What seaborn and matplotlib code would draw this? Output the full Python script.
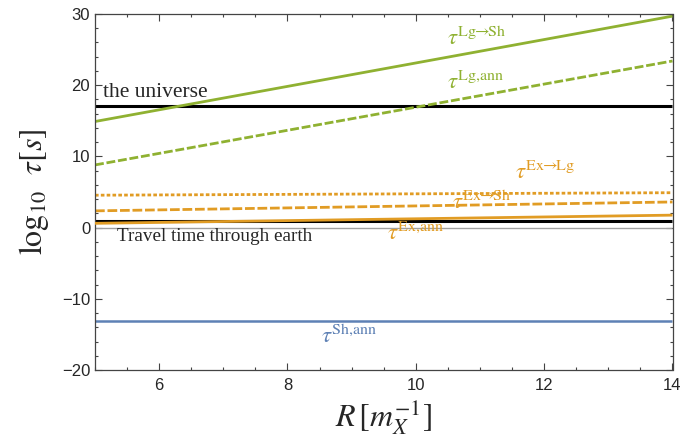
import matplotlib
matplotlib.use("Agg")
import matplotlib.pyplot as plt
import seaborn as sns
import pandas as pd
import numpy as np
from matplotlib.ticker import MultipleLocator

sns.set_style("ticks")
plt.rcParams['font.family'] = ['Liberation Sans', 'DejaVu Sans']
plt.rcParams['mathtext.fontset'] = 'stix'

# Data
R = [5.0, 14.0]
lg_sh = [14.9, 29.7]        # tau Lg->Sh (solid green)
lg_ann = [8.8, 23.4]        # tau Lg,ann (dashed green)
universe = [17.05, 17.05]   # age of the universe (black)
ex_lg = [4.55, 4.9]         # tau Ex->Lg (dotted orange)
ex_sh = [2.35, 3.6]         # tau Ex->Sh (dashed orange)
ex_ann = [0.6, 1.75]        # tau Ex,ann (solid orange)
travel = [0.93, 0.93]       # travel time through earth (black)
zero = [0.0, 0.0]           # axis line
sh_ann = [-13.1, -13.1]     # tau Sh,ann (blue)

green = '#8FB131'
orange = '#E19C24'
blue = '#5E81B5'

fig = plt.figure(figsize=(6.85, 4.48), dpi=100)
ax = fig.add_axes([95/685, 1-370/448, (672.5-95)/685, (370-14)/448])

def line(y, color, lw, dashes=None, z=2):
    df = pd.DataFrame({'R': R, 'y': y})
    sns.lineplot(data=df, x='R', y='y', ax=ax, color=color, lw=lw, zorder=z)
    l = ax.lines[-1]
    if dashes is not None:
        l.set_dashes(dashes)
    l.set_solid_capstyle('butt')
    l.set_dash_capstyle('butt')

line(zero, '#a0a0a0', 1.0, z=1)
line(sh_ann, blue, 1.8)
line(travel, 'black', 2.2)
line(ex_ann, orange, 2.0, z=3)
line(ex_sh, orange, 2.0, dashes=(3.5, 1.0))
line(ex_lg, orange, 2.0, dashes=(1.3, 0.8))
line(universe, 'black', 2.2)
line(lg_ann, green, 2.0, dashes=(3.2, 1.0))
line(lg_sh, green, 2.0)

ax.set_xlim(5, 14)
ax.set_ylim(-20, 30)
ax.xaxis.set_major_locator(MultipleLocator(2))
ax.xaxis.set_minor_locator(MultipleLocator(0.5))
ax.yaxis.set_major_locator(MultipleLocator(10))
ax.yaxis.set_minor_locator(MultipleLocator(2))
ax.tick_params(which='both', direction='in', top=True, right=True, labelsize=12,
               color='#444444', width=0.8)
ax.tick_params(which='major', length=5)
ax.tick_params(which='minor', length=2.5)
for s in ax.spines.values():
    s.set_color('#444444')
    s.set_linewidth(0.9)
ax.set_xticks([6, 8, 10, 12, 14])
ax.set_xticklabels(['6', '8', '10', '12', '14'])
ax.set_yticks([-20, -10, 0, 10, 20, 30])
ax.set_yticklabels(['\u221220', '\u221210', '0', '10', '20', '30'])
ax.tick_params(axis='x', pad=6)

ax.set_xlabel(r'$R\,[m_X^{-1}]$', fontsize=23, labelpad=3)
ax.set_ylabel(r'$\mathrm{log}_{10}\ \ \tau[s]$', fontsize=23, labelpad=8)

serif = ['Liberation Serif', 'DejaVu Serif']
ax.text(5.13, 19.0, 'the universe', ha='left', va='center', fontsize=15.5,
        family=serif)
ax.text(5.35, -1.3, 'Travel time through earth', ha='left', va='center', fontsize=13.8,
        family=serif)

fs = 16.5
ax.text(10.48, 26.6, r'$\tau^{\mathrm{Lg}\!\!\rightarrow\!\!\mathrm{Sh}}$', color=green, fontsize=fs, va='center')
ax.text(10.48, 20.4, r'$\tau^{\mathrm{Lg{,}ann}}$', color=green, fontsize=fs, va='center')
ax.text(11.55, 7.8, r'$\tau^{\mathrm{Ex}\!\!\rightarrow\!\!\mathrm{Lg}}$', color=orange, fontsize=fs, va='center')
ax.text(10.56, 3.6, r'$\tau^{\mathrm{Ex}\!\!\rightarrow\!\!\mathrm{Sh}}$', color=orange, fontsize=fs, va='center')
ax.text(9.55, -0.8, r'$\tau^{\mathrm{Ex{,}ann}}$', color=orange, fontsize=fs, va='center')
ax.text(8.52, -15.2, r'$\tau^{\mathrm{Sh{,}ann}}$', color=blue, fontsize=fs, va='center')

fig.savefig('out.png', dpi=100)
